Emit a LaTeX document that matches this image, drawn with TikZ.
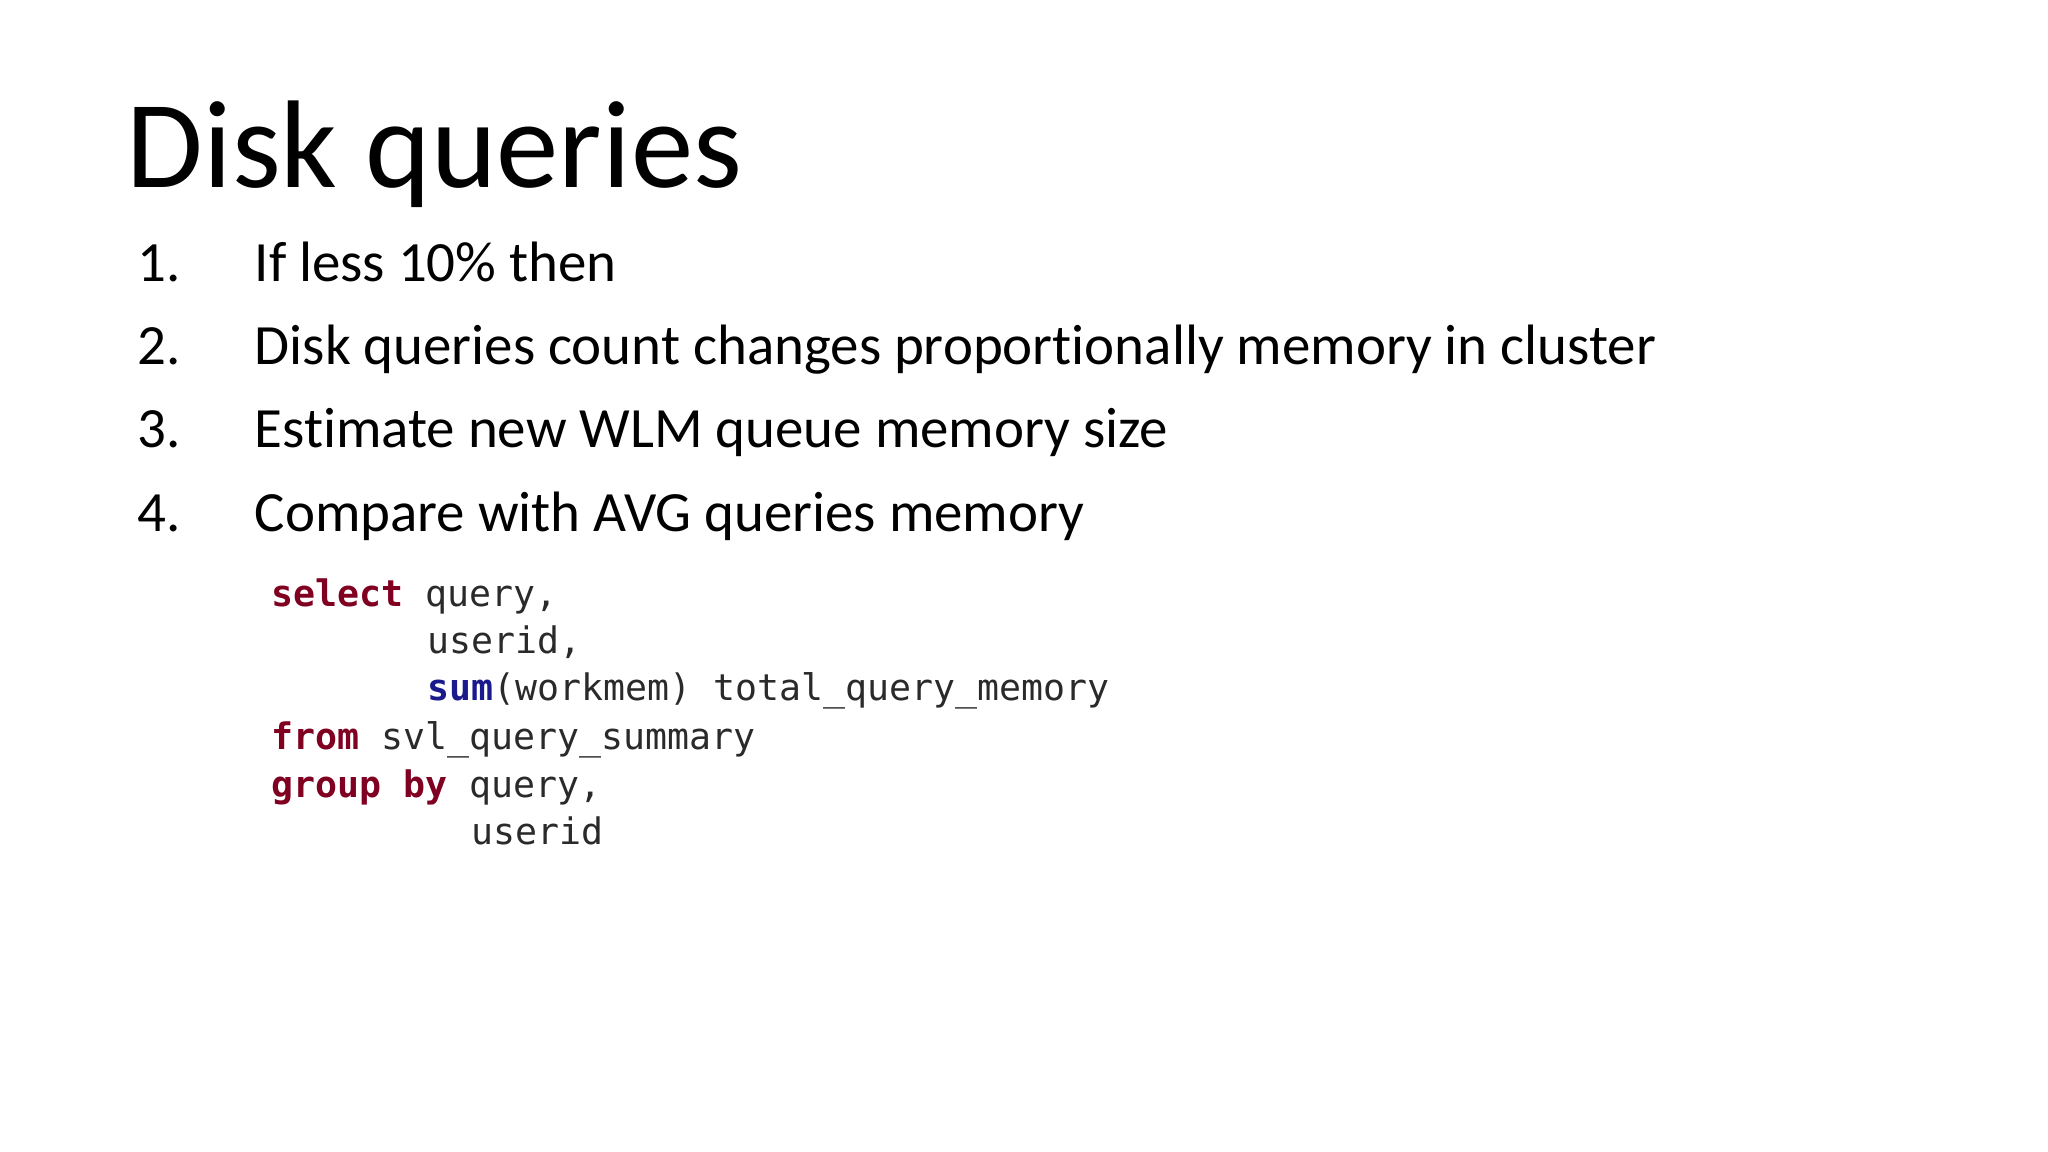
\documentclass[tikz,border=0pt]{standalone}
\usepackage{fontspec}
\setmainfont{Carlito}[RawFeature=-liga]
\newfontfamily\codefont{DejaVu Sans Mono}
\definecolor{kwred}{HTML}{7F0020}
\definecolor{fnblue}{HTML}{1A1A8C}
\definecolor{codegray}{HTML}{2A2A2A}
\tikzset{
  slidetitle/.style={anchor=base west,inner sep=0pt,font=\fontsize{35.5pt}{40pt}\selectfont},
  itemnum/.style={anchor=base west,inner sep=0pt,font=\fontsize{16.2pt}{20pt}\selectfont},
  itemtext/.style={anchor=base west,inner sep=0pt,font=\fontsize{16.2pt}{20pt}\selectfont},
  codeline/.style={anchor=base west,inner sep=0pt,text=codegray,font=\codefont\fontsize{10.4pt}{12pt}\selectfont}
}
\newcommand{\kw}[1]{\textcolor{kwred}{\bfseries #1}}
\newcommand{\fn}[1]{\textcolor{fnblue}{\bfseries #1}}
\begin{document}
\begin{tikzpicture}[x=1cm,y=-1cm]
\useasboundingbox (0,0) rectangle (20.48,11.52);
% title
\node[slidetitle] (title) at (1.26,1.88) {Disk queries};
% numbered list
\foreach \n/\yy/\txt in {1/2.82/If less 10\% then,
  2/3.65/Disk queries count changes proportionally memory in cluster,
  3/4.48/Estimate new WLM queue memory size,
  4/5.32/Compare with AVG queries memory} {
  \node[itemnum] (num\n) at (1.37,\yy) {\n.};
  \node[itemtext] (item\n) at (2.54,\yy) {\txt};
}
% sql snippet
\node[codeline] (sql1) at (2.71,6.06) {\kw{select} query,};
\node[codeline] (sql2) at (4.27,6.53) {userid,};
\node[codeline] (sql3) at (4.27,7.01) {\fn{sum}(workmem) total\_query\_memory};
\node[codeline] (sql4) at (2.71,7.50) {\kw{from} svl\_query\_summary};
\node[codeline] (sql5) at (2.71,7.98) {\kw{group} \kw{by} query,};
\node[codeline] (sql6) at (4.71,8.45) {userid};
\end{tikzpicture}
\end{document}
